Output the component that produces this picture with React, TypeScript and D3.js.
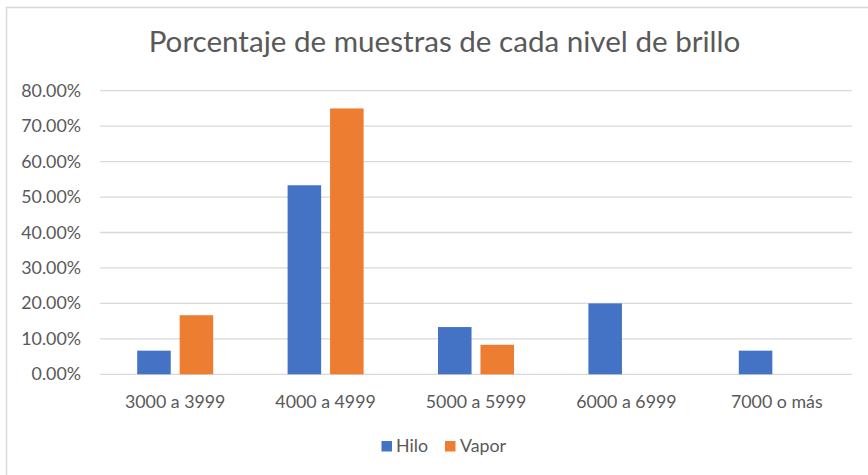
import React from "react";
import * as d3 from "d3";

const categories = ["3000 a 3999", "4000 a 4999", "5000 a 5999", "6000 a 6999", "7000 o más"];
const seriesNames = ["Hilo", "Vapor"];
const hilo = [0.0667, 0.5333, 0.1333, 0.2, 0.0667];
const vapor = [0.1667, 0.75, 0.0833, 0, 0];
const yTicks = [0, 0.1, 0.2, 0.3, 0.4, 0.5, 0.6, 0.7, 0.8];
const colors = ["#4472C4", "#ED7D31"];
const title = "Porcentaje de muestras de cada nivel de brillo";

const W = 868, H = 475;
const FONT = "Lato, 'Open Sans', sans-serif";

export default function App() {
  const left = 100, right = 852, top = 90.7, bottom = 374.3;
  const x = d3.scaleBand<string>().domain(categories).range([left, right]).paddingInner(0).paddingOuter(0);
  const x1 = d3.scaleBand<string>().domain(seriesNames).range([0, 76]).paddingInner(0.21);
  const y = d3.scaleLinear().domain([0, 0.8]).range([bottom, top]);
  const fmt = (v: number) => (v * 100).toFixed(2) + "%";
  const series = [hilo, vapor];
  return (
    <>
      <style>{`body{margin:0}`}</style>
      <svg width={W} height={H} style={{ display: "block", background: "#fff" }} fontFamily={FONT}>
        <line x1={6} x2={W} y1={7.5} y2={7.5} stroke="#d9d9d9" strokeWidth={1.5} />
        <line x1={6.5} x2={6.5} y1={7} y2={H} stroke="#d9d9d9" strokeWidth={1.5} />
        <text x={444.5} y={52} textAnchor="middle" fontSize={29.6} fill="#595959">{title}</text>
        {yTicks.map((t) => (
          <g key={t}>
            <line x1={left} x2={right} y1={y(t)} y2={y(t)} stroke="#d9d9d9" strokeWidth={1.3} />
            <text x={81} y={y(t) + 6} textAnchor="end" fontSize={17.8} fill="#595959">{fmt(t)}</text>
          </g>
        ))}
        {categories.map((c, i) => (
          <g key={c}>
            {series.map((s, j) =>
              s[i] > 0 ? (
                <rect
                  key={j}
                  x={x(c)! + (x.bandwidth() - 76) / 2 + x1(seriesNames[j])!}
                  y={y(s[i])}
                  width={x1.bandwidth()}
                  height={bottom - y(s[i])}
                  fill={colors[j]}
                />
              ) : null
            )}
            <text x={x(c)! + x.bandwidth() / 2} y={407.5} textAnchor="middle" fontSize={17.8} fill="#595959">{c}</text>
          </g>
        ))}
        <g>
          <rect x={381.5} y={441} width={10.5} height={10.5} fill={colors[0]} />
          <text x={396} y={452} fontSize={17.8} fill="#595959">{seriesNames[0]}</text>
          <rect x={445} y={441} width={10.5} height={10.5} fill={colors[1]} />
          <text x={460} y={452} fontSize={17.8} fill="#595959">{seriesNames[1]}</text>
        </g>
      </svg>
    </>
  );
}
